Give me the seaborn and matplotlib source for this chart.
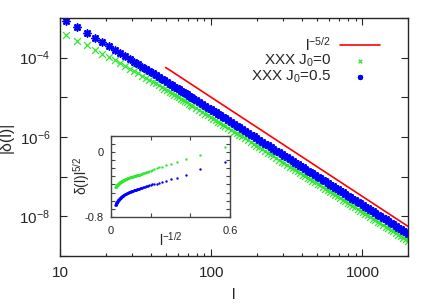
import numpy as np
import pandas as pd
import matplotlib
matplotlib.use("Agg")
import matplotlib.pyplot as plt
import matplotlib.ticker as mticker
import seaborn as sns

# odd chain lengths l and the amplitude delta(l) * l^(5/2)
l_vals = [3, 5, 7, 9, 11, 13, 15, 17, 19, 21, 23, 25, 27, 29, 31, 33, 35, 37, 39,
          41, 43, 45, 47, 49,
          51, 53, 55, 57, 59, 61, 63, 65, 67, 69, 71, 73, 75,
          79, 83, 87, 91, 95, 99, 103, 107, 111, 115, 119, 123,
          129, 135, 141, 147, 153, 159, 167, 175, 183, 191, 199, 207,
          217, 227, 237, 247, 257, 269, 281, 293, 305, 317,
          331, 345, 359, 373, 387, 403, 419, 435, 451, 467,
          485, 505, 525, 545, 567, 589, 611, 635, 659, 685, 711, 739, 767, 797,
          827, 859, 893, 927, 963, 1001,
          1041, 1083, 1127, 1171, 1217, 1265, 1315, 1367, 1421, 1477, 1535, 1595,
          1659, 1725, 1793, 1863, 1937, 1999]
amp_j0 = [0.06, -0.04, -0.09, -0.125, -0.15, -0.165, -0.18, -0.19, -0.20, -0.21,
          -0.22, -0.228, -0.235, -0.24, -0.245, -0.25, -0.255, -0.26, -0.264,
          -0.268, -0.271, -0.274, -0.277, -0.28,
          -0.282, -0.283, -0.285, -0.286, -0.288, -0.289, -0.290, -0.292, -0.293,
          -0.294, -0.295, -0.296, -0.298,
          -0.300, -0.302, -0.304, -0.306, -0.307, -0.309, -0.311, -0.312, -0.314,
          -0.315, -0.317, -0.318,
          -0.320, -0.322, -0.324, -0.325, -0.327, -0.329, -0.331, -0.333, -0.334,
          -0.336, -0.338, -0.339,
          -0.341, -0.343, -0.345, -0.347, -0.348, -0.350, -0.352, -0.354, -0.355,
          -0.357,
          -0.359, -0.361, -0.362, -0.364, -0.365, -0.367, -0.369, -0.370, -0.372,
          -0.373,
          -0.375, -0.376, -0.378, -0.379, -0.381, -0.383, -0.384, -0.386, -0.387,
          -0.389, -0.390, -0.392, -0.393, -0.395,
          -0.397, -0.398, -0.400, -0.401, -0.403, -0.404,
          -0.406, -0.408, -0.409, -0.411, -0.413, -0.414, -0.416, -0.418, -0.419,
          -0.421, -0.422, -0.424, -0.426, -0.427, -0.429, -0.431, -0.432, -0.434]
amp_j05 = [-0.125, -0.205, -0.28, -0.315, -0.335, -0.355, -0.37, -0.38, -0.39,
           -0.395, -0.40, -0.405, -0.41, -0.415, -0.42, -0.425, -0.43, -0.433,
           -0.436, -0.44, -0.443, -0.446, -0.449, -0.452,
           -0.454, -0.456, -0.457, -0.459, -0.461, -0.463, -0.465, -0.466, -0.468,
           -0.469, -0.471, -0.472, -0.474,
           -0.476, -0.478, -0.481, -0.483, -0.485, -0.487, -0.489, -0.491, -0.493,
           -0.495, -0.496, -0.498,
           -0.500, -0.503, -0.505, -0.507, -0.509, -0.511, -0.513, -0.516, -0.518,
           -0.520, -0.522, -0.524,
           -0.527, -0.529, -0.531, -0.533, -0.535, -0.538, -0.540, -0.542, -0.544,
           -0.546,
           -0.548, -0.551, -0.553, -0.555, -0.557, -0.559, -0.561, -0.563, -0.565,
           -0.567,
           -0.569, -0.571, -0.573, -0.576, -0.578, -0.580, -0.582, -0.585, -0.587,
           -0.589, -0.591, -0.594, -0.596, -0.598,
           -0.600, -0.603, -0.605, -0.607, -0.610, -0.612,
           -0.614, -0.617, -0.619, -0.621, -0.624, -0.626, -0.629, -0.631, -0.633,
           -0.636, -0.638, -0.640, -0.643, -0.645, -0.648, -0.650, -0.653, -0.655]

# reference power law l^(-5/2)
power_l = [50, 2000]
power_exp = -2.5

y_ticks = [1e-9, 1e-8, 1e-7, 1e-6, 1e-5, 1e-4, 1e-3]
y_labels = ['', r'10$^{\mathrm{-8}}$', '', r'10$^{\mathrm{-6}}$', '', r'10$^{\mathrm{-4}}$', '']
x_ticks = [10, 100, 1000]
x_labels = ['10', '100', '1000']
in_yticks = [-0.8, -0.7, -0.6, -0.5, -0.4, -0.3, -0.2, -0.1, 0.0, 0.1, 0.2]
in_ylabels = ['-0.8', '', '', '', '', '', '', '', '0', '', '']
in_xticks = [0, 0.2, 0.4, 0.6]
in_xlabels = ['0', '', '', '0.6']

green = '#2ee82e'
blue = '#0000ff'

df = pd.DataFrame({'l': l_vals, 'a0': amp_j0, 'a05': amp_j05})
df['d0'] = df['a0'].abs() / df['l'] ** 2.5
df['d05'] = df['a05'].abs() / df['l'] ** 2.5
df['x'] = df['l'] ** -0.5
pw = pd.DataFrame({'l': power_l})
pw['d'] = pw['l'] ** power_exp

sns.set_style('ticks')
plt.rcParams['font.family'] = ['Liberation Sans', 'DejaVu Sans']
plt.rcParams['mathtext.fontset'] = 'custom'
plt.rcParams['mathtext.rm'] = 'Liberation Sans'
plt.rcParams['mathtext.it'] = 'Liberation Sans:italic'
plt.rcParams['mathtext.sf'] = 'Liberation Sans'

fig = plt.figure(figsize=(4.36, 3.05), dpi=100)
ax = fig.add_axes([0.1376, 0.1607, 0.7982, 0.7803])
ax.set_xscale('log')
ax.set_yscale('log')

sns.lineplot(data=pw, x='l', y='d', color='#ff0000', lw=1.2, ax=ax,
             label=r'l$^{\mathrm{-5/2}}$')
sns.scatterplot(data=df, x='l', y='d0', marker='x', color=green, s=24,
                linewidth=0.9, ax=ax, label=r'XXX J$_{\mathrm{0}}$=0')
sns.scatterplot(data=df, x='l', y='d05', marker=(8, 2, 0), color=blue, s=24,
                linewidth=1.2, ax=ax, label=r'XXX J$_{\mathrm{0}}$=0.5')

ax.set_xlim(10, 2000)
ax.set_ylim(1e-9, 1e-3)
ax.yaxis.set_major_locator(mticker.FixedLocator(y_ticks))
ax.yaxis.set_major_formatter(mticker.FixedFormatter(y_labels))
ax.yaxis.set_minor_locator(mticker.NullLocator())
ax.xaxis.set_major_locator(mticker.FixedLocator(x_ticks))
ax.xaxis.set_major_formatter(mticker.FixedFormatter(x_labels))
ax.xaxis.set_minor_locator(mticker.LogLocator(base=10, subs=np.arange(2, 10)))
ax.xaxis.set_minor_formatter(mticker.NullFormatter())
ax.tick_params(which='both', direction='in', top=True, right=True, labelsize=11, width=0.8)
ax.tick_params(which='major', length=5, pad=7)
ax.tick_params(which='minor', length=2.5)
for s in ax.spines.values():
    s.set_linewidth(1.0)
ax.set_xlabel('l', fontsize=11, labelpad=6)
ax.set_ylabel('|δ(l)|', fontsize=11.5, labelpad=4)

leg = ax.legend(loc='upper right', bbox_to_anchor=(0.92, 0.925), markerfirst=False,
                frameon=False, fontsize=11, handlelength=2.6, handletextpad=0.6,
                labelspacing=-0.05, borderpad=0, borderaxespad=0, markerscale=0.55)

# inset: amplitude vs l^(-1/2)
ax2 = fig.add_axes([0.2546, 0.2895, 0.2729, 0.2645])
ax2.set_facecolor('white')
sns.scatterplot(data=df, x='x', y='a0', marker='o', color=green, s=3,
                linewidth=0, ax=ax2, legend=False)
sns.scatterplot(data=df, x='x', y='a05', marker='o', color=blue, s=3,
                linewidth=0, ax=ax2, legend=False)
ax2.set_xlim(0, 0.6)
ax2.set_ylim(-0.8, 0.2)
ax2.yaxis.set_major_locator(mticker.FixedLocator(in_yticks))
ax2.yaxis.set_major_formatter(mticker.FixedFormatter(in_ylabels))
ax2.xaxis.set_major_locator(mticker.FixedLocator(in_xticks))
ax2.xaxis.set_major_formatter(mticker.FixedFormatter(in_xlabels))
ax2.tick_params(direction='in', top=True, right=True, labelsize=8, length=3,
                width=0.8, color='#444444')
ax2.tick_params(axis='y', pad=5)
ax2.tick_params(axis='x', pad=7)
for s in ax2.spines.values():
    s.set_linewidth(1.0)
    s.set_color('#444444')
ax2.set_xlabel(r'l$^{\mathrm{-1/2}}$', fontsize=10)
ax2.set_ylabel(r'δ(l)l$^{\mathrm{5/2}}$', fontsize=10)
ax2.xaxis.set_label_coords(0.5, -0.17)
ax2.yaxis.set_label_coords(-0.16, 0.5)

fig.savefig('out.png', dpi=100)
